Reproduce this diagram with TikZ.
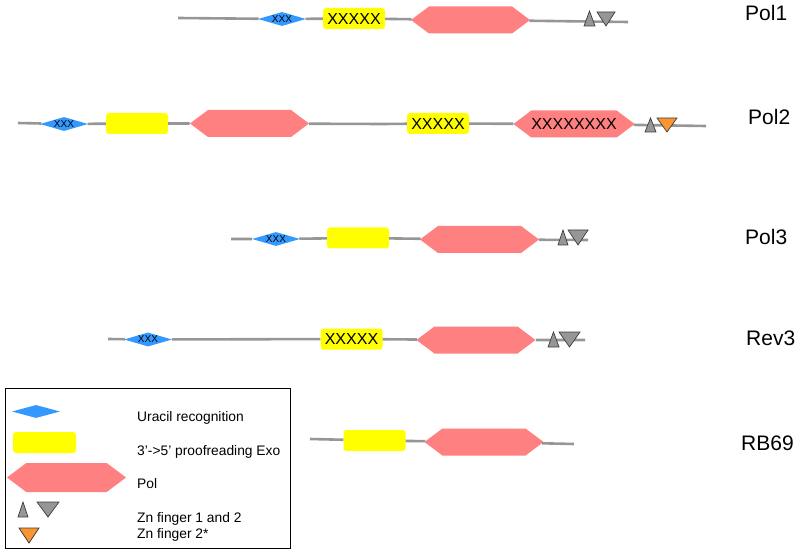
\documentclass[tikz,border=0pt]{standalone}
\usepackage{fontspec}
\setmainfont{Liberation Sans}
\usepackage{tikz}
\usepackage{xcolor}
\usetikzlibrary{
    shapes.geometric,
    shapes.symbols
}
\definecolor{uraBlue}{RGB}{51,153,255}
\definecolor{exoYellow}{RGB}{255,255,0}
\definecolor{polPink}{RGB}{255,128,128}
\definecolor{lineGray}{RGB}{150,150,150}
\definecolor{znGray}{RGB}{150,150,150}
\definecolor{znEdge}{RGB}{60,60,60}
\definecolor{znOrange}{RGB}{250,150,50}

\begin{document}
\begin{tikzpicture}[x=1pt, y=-1pt,
    bone/.style={draw=lineGray, line width=2.6pt},
    ura/.style={diamond, fill=uraBlue, inner sep=0pt, aspect=3.4, minimum width=48pt, minimum height=14pt, font=\fontsize{10}{11}\selectfont},
    exo/.style={rectangle, rounded corners=3pt, fill=exoYellow, inner sep=0pt, minimum width=62pt, minimum height=21pt, font=\fontsize{16}{18}\selectfont},
    pol/.style={signal, signal to=east and west, signal pointer angle=74, fill=polPink, inner sep=0pt, minimum width=119pt, minimum height=27pt, font=\fontsize{16}{18}\selectfont},
    zn/.style={fill=znGray, draw=znEdge, line width=0.7pt},
    zno/.style={fill=znOrange, draw=znEdge, line width=0.7pt},
    rowname/.style={anchor=base west, inner sep=0pt, font=\fontsize{21}{25}\selectfont},
    keytext/.style={anchor=base west, inner sep=0pt, font=\fontsize{13.8}{16}\selectfont}]
                        \useasboundingbox (0,0) rectangle (800,553);

                        % Pol1
                        \coordinate (s1) at (178,18);
                        \node[ura] (u1) at (282,19) {XXX};
                        \node[exo] (x1) at (354,18.5) {XXXXX};
                        \node[pol] (p1) at (470.5,20) {};
                        \coordinate (e1) at (628,22);
                        \draw[bone] (s1) -- (u1) -- (x1) -- (p1) -- (e1);
                        \draw[zn] (584,26) -- (589.5,11) -- (595,26) -- cycle;
                        \draw[zn] (597,12) -- (615,12) -- (606,26) -- cycle;
                        \node[rowname] (l1) at (745,21) {Pol1};

                        % Pol2
                        \coordinate (s2) at (18,123);
                        \node[ura] (u2) at (64,124) {XXX};
                        \node[exo] (x2) at (137,123.5) {};
                        \node[pol] (p2) at (249.5,123.5) {};
                        \coordinate (k2) at (383,124);
                        \node[exo] (x3) at (438,123.5) {XXXXX};
                        \node[pol] (p3) at (574,124) {XXXXXXXX};
                        \coordinate (e2) at (706,126);
                        \draw[bone] (s2) -- (u2) -- (x2) -- (p2) -- (k2);
                        \draw[bone] (k2) -- (x3) -- (p3) -- (e2);
                        \draw[zn] (645,132) -- (650.5,118) -- (656,132) -- cycle;
                        \draw[zno] (657,118) -- (677,118) -- (667,132) -- cycle;
                        \node[rowname] (l2) at (748,125) {Pol2};

                        % Pol3
                        \coordinate (s3) at (231,239);
                        \node[ura] (u3) at (276,239) {XXX};
                        \node[exo] (x4) at (358,238) {};
                        \node[pol] (p4) at (479.5,239.5) {};
                        \coordinate (e3) at (588,240);
                        \draw[bone] (s3) -- (u3) -- (x4) -- (p4) -- (e3);
                        \draw[zn] (558,245) -- (563,230) -- (568,245) -- cycle;
                        \draw[zn] (568,230) -- (588,230) -- (578,245) -- cycle;
                        \node[rowname] (l3) at (745,245) {Pol3};

                        % Rev3
                        \coordinate (s4) at (108,339);
                        \node[ura] (u4) at (148,339.5) {XXX};
                        \node[exo] (x5) at (351.5,339) {XXXXX};
                        \node[pol] (p5) at (476,340) {};
                        \coordinate (e4) at (585,340);
                        \draw[bone] (s4) -- (u4) -- (x5) -- (p5) -- (e4);
                        \draw[zn] (548,347) -- (553.5,332) -- (559,347) -- cycle;
                        \draw[zn] (559,332) -- (580,332) -- (569.5,347) -- cycle;
                        \node[rowname] (l4) at (746,345) {Rev3};

                        % RB69
                        \coordinate (s5) at (310,439);
                        \node[exo] (x6) at (374.5,440.5) {};
                        \node[pol] (p6) at (484,442) {};
                        \coordinate (e5) at (574,444);
                        \draw[bone] (s5) -- (x6) -- (p6) -- (e5);
                        \node[rowname] (l5) at (741,450) {RB69};

                        % key
                        \draw[line width=0.8pt] (5,388) rectangle (290,548);
                        \node[ura, minimum height=13pt] (ku) at (36,411.5) {};
                        \node[exo, minimum width=63pt] (kx) at (44.5,442.5) {};
                        \node[pol, minimum height=29pt] (kp) at (66.5,477.5) {};
                        \draw[zn] (18,517) -- (23,502) -- (28,517) -- cycle;
                        \draw[zn] (37,502) -- (59,502) -- (48,517) -- cycle;
                        \draw[zno] (19,528) -- (39,528) -- (29,543) -- cycle;
                        \node[keytext] (t1) at (137,421) {Uracil recognition};
                        \node[keytext] (t2) at (137,455) {3’->5’ proofreading Exo};
                        \node[keytext] (t3) at (137,488) {Pol};
                        \node[keytext] (t4) at (137,522) {Zn finger 1 and 2};
                        \node[keytext] (t5) at (137,538) {Zn finger 2*};
                    \end{tikzpicture}
\end{document}
